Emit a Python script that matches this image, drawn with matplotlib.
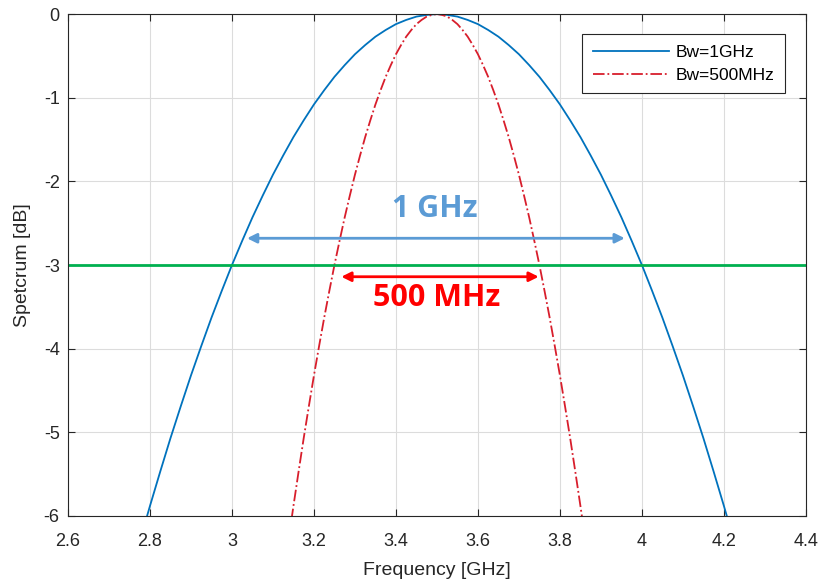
import matplotlib.pyplot as plt

plt.rcParams['font.family'] = ['Liberation Sans', 'DejaVu Sans']
plt.rcParams['axes.unicode_minus'] = False

# values
freq_1g = [2.79, 2.8, 2.825, 2.85, 2.875, 2.9, 2.925, 2.95, 2.975, 3.0, 3.025, 3.05, 3.075, 3.1, 3.125,
           3.15, 3.175, 3.2, 3.225, 3.25, 3.275, 3.3, 3.325, 3.35, 3.375, 3.4, 3.425, 3.45, 3.475, 3.5,
           3.525, 3.55, 3.575, 3.6, 3.625, 3.65, 3.675, 3.7, 3.725, 3.75, 3.775, 3.8, 3.825, 3.85, 3.875,
           3.9, 3.925, 3.95, 3.975, 4.0, 4.025, 4.05, 4.075, 4.1, 4.125, 4.15, 4.175, 4.2, 4.21]
spec_1g = [-6.05, -5.88, -5.47, -5.07, -4.69, -4.32, -3.97, -3.63, -3.31, -3.00, -2.71, -2.43, -2.17, -1.92, -1.69,
           -1.47, -1.27, -1.08, -0.91, -0.75, -0.61, -0.48, -0.37, -0.27, -0.19, -0.12, -0.07, -0.03, -0.01, 0.00,
           -0.01, -0.03, -0.07, -0.12, -0.19, -0.27, -0.37, -0.48, -0.61, -0.75, -0.91, -1.08, -1.27, -1.47, -1.69,
           -1.92, -2.17, -2.43, -2.71, -3.00, -3.31, -3.63, -3.97, -4.32, -4.69, -5.07, -5.47, -5.88, -6.05]

freq_500m = [3.145, 3.15, 3.1625, 3.175, 3.1875, 3.2, 3.2125, 3.225, 3.2375, 3.25, 3.2625, 3.275, 3.2875, 3.3,
             3.3125, 3.325, 3.3375, 3.35, 3.3625, 3.375, 3.3875, 3.4, 3.4125, 3.425, 3.4375, 3.45, 3.4625, 3.475,
             3.4875, 3.5, 3.5125, 3.525, 3.5375, 3.55, 3.5625, 3.575, 3.5875, 3.6, 3.6125, 3.625, 3.6375, 3.65,
             3.6625, 3.675, 3.6875, 3.7, 3.7125, 3.725, 3.7375, 3.75, 3.7625, 3.775, 3.7875, 3.8, 3.8125, 3.825,
             3.8375, 3.85, 3.855]
spec_500m = [-6.05, -5.88, -5.47, -5.07, -4.69, -4.32, -3.97, -3.63, -3.31, -3.00, -2.71, -2.43, -2.17, -1.92,
             -1.69, -1.47, -1.27, -1.08, -0.91, -0.75, -0.61, -0.48, -0.37, -0.27, -0.19, -0.12, -0.07, -0.03,
             -0.01, 0.00, -0.01, -0.03, -0.07, -0.12, -0.19, -0.27, -0.37, -0.48, -0.61, -0.75, -0.91, -1.08,
             -1.27, -1.47, -1.69, -1.92, -2.17, -2.43, -2.71, -3.00, -3.31, -3.63, -3.97, -4.32, -4.69, -5.07,
             -5.47, -5.88, -6.05]

level_3db = -3
arrow_1g = [3.03, 3.965]
arrow_500m = [3.26, 3.755]

fig = plt.figure(figsize=(8.19, 5.87), dpi=100)
ax = fig.add_axes([0.083, 0.121, 0.901, 0.855])

ax.plot(freq_1g, spec_1g, color='#0072BD', lw=1.3, label='Bw=1GHz')
ax.plot(freq_500m, spec_500m, color='#D81E2C', lw=1.3, ls='-.', label='Bw=500MHz')
ax.axhline(level_3db, color='#00B050', lw=2)

ax.annotate('', xy=(arrow_1g[0], -2.68), xytext=(arrow_1g[1], -2.68),
            arrowprops=dict(arrowstyle='<|-|>', color='#5B9BD5', lw=2, mutation_scale=14))
ax.text(3.495, -2.33, '1 GHz', color='#5B9BD5', fontsize=22, fontweight='bold',
        family=['Open Sans'], ha='center', va='center')
ax.annotate('', xy=(arrow_500m[0], -3.14), xytext=(arrow_500m[1], -3.14),
            arrowprops=dict(arrowstyle='<|-|>', color='#FF0000', lw=2, mutation_scale=14))
ax.text(3.50, -3.40, '500 MHz', color='#FF0000', fontsize=22, fontweight='bold',
        family=['Open Sans'], ha='center', va='center')

ax.set_xlim(2.6, 4.4)
ax.set_ylim(-6, 0)
ax.set_xticks([2.6, 2.8, 3.0, 3.2, 3.4, 3.6, 3.8, 4.0, 4.2, 4.4])
ax.set_xticklabels(['2.6', '2.8', '3', '3.2', '3.4', '3.6', '3.8', '4', '4.2', '4.4'])
ax.set_yticks([-6, -5, -4, -3, -2, -1, 0])
ax.tick_params(labelsize=13, colors='#262626', direction='in', length=5, top=True, right=True)
ax.tick_params(axis='x', pad=12)
ax.tick_params(axis='y', pad=6)
ax.grid(color='#dcdcdc', lw=0.8)
for s in ax.spines.values():
    s.set_color('#262626')
    s.set_linewidth(0.8)

ax.set_xlabel('Frequency [GHz]', fontsize=14, color='#262626', labelpad=9)
ax.set_ylabel('Spetcrum [dB]', fontsize=14, color='#262626', labelpad=9)

leg = ax.legend(loc='upper right', bbox_to_anchor=(0.972, 0.96), borderaxespad=0, fontsize=12.5,
                fancybox=False, framealpha=1, edgecolor='#262626', handlelength=4.4, borderpad=0.6,
                labelspacing=0.45, handletextpad=0.4)
leg.get_frame().set_linewidth(0.8)

plt.savefig('out.png')
